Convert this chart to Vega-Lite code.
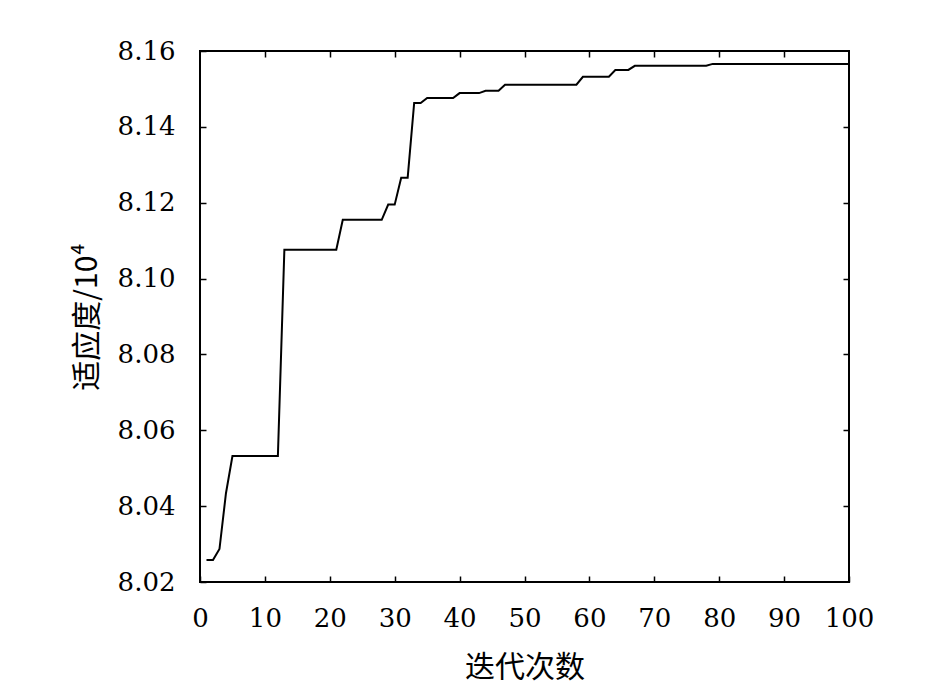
{
  "$schema": "https://vega.github.io/schema/vega-lite/v6.json",
  "autosize": {"type": "none"},
  "padding": {"left": 200, "top": 51, "right": 96, "bottom": 103},
  "width": 649,
  "height": 531,
  "background": "white",
  "config": {
    "view": {"stroke": "black", "strokeWidth": 2},
    "axis": {
      "grid": false,
      "domain": false,
      "tickColor": "black",
      "tickWidth": 1.5,
      "tickSize": -6,
      "labelFont": "DejaVu Serif",
      "labelFontSize": 26,
      "labelColor": "black",
      "titleFont": "Noto Sans CJK SC",
      "titleFontSize": 30,
      "titleFontWeight": "normal",
      "titleColor": "black"
    }
  },
  "data": {
    "values": [
      {"iter": 1, "fitness": 8.0258}, {"iter": 2, "fitness": 8.0258}, {"iter": 3, "fitness": 8.0287}, {"iter": 4, "fitness": 8.0434},
      {"iter": 5, "fitness": 8.0532}, {"iter": 6, "fitness": 8.0532}, {"iter": 7, "fitness": 8.0532}, {"iter": 8, "fitness": 8.0532},
      {"iter": 9, "fitness": 8.0532}, {"iter": 10, "fitness": 8.0532}, {"iter": 11, "fitness": 8.0532}, {"iter": 12, "fitness": 8.0532},
      {"iter": 13, "fitness": 8.1076}, {"iter": 14, "fitness": 8.1076}, {"iter": 15, "fitness": 8.1076}, {"iter": 16, "fitness": 8.1076},
      {"iter": 17, "fitness": 8.1076}, {"iter": 18, "fitness": 8.1076}, {"iter": 19, "fitness": 8.1076}, {"iter": 20, "fitness": 8.1076},
      {"iter": 21, "fitness": 8.1076}, {"iter": 22, "fitness": 8.1155}, {"iter": 23, "fitness": 8.1155}, {"iter": 24, "fitness": 8.1155},
      {"iter": 25, "fitness": 8.1155}, {"iter": 26, "fitness": 8.1155}, {"iter": 27, "fitness": 8.1155}, {"iter": 28, "fitness": 8.1155},
      {"iter": 29, "fitness": 8.1195}, {"iter": 30, "fitness": 8.1195}, {"iter": 31, "fitness": 8.1266}, {"iter": 32, "fitness": 8.1266},
      {"iter": 33, "fitness": 8.1463}, {"iter": 34, "fitness": 8.1463}, {"iter": 35, "fitness": 8.1476}, {"iter": 36, "fitness": 8.1476},
      {"iter": 37, "fitness": 8.1476}, {"iter": 38, "fitness": 8.1476}, {"iter": 39, "fitness": 8.1476}, {"iter": 40, "fitness": 8.1489},
      {"iter": 41, "fitness": 8.1489}, {"iter": 42, "fitness": 8.1489}, {"iter": 43, "fitness": 8.1489}, {"iter": 44, "fitness": 8.1495},
      {"iter": 45, "fitness": 8.1495}, {"iter": 46, "fitness": 8.1495}, {"iter": 47, "fitness": 8.1511}, {"iter": 48, "fitness": 8.1511},
      {"iter": 49, "fitness": 8.1511}, {"iter": 50, "fitness": 8.1511}, {"iter": 51, "fitness": 8.1511}, {"iter": 52, "fitness": 8.1511},
      {"iter": 53, "fitness": 8.1511}, {"iter": 54, "fitness": 8.1511}, {"iter": 55, "fitness": 8.1511}, {"iter": 56, "fitness": 8.1511},
      {"iter": 57, "fitness": 8.1511}, {"iter": 58, "fitness": 8.1511}, {"iter": 59, "fitness": 8.1532}, {"iter": 60, "fitness": 8.1532},
      {"iter": 61, "fitness": 8.1532}, {"iter": 62, "fitness": 8.1532}, {"iter": 63, "fitness": 8.1532}, {"iter": 64, "fitness": 8.155},
      {"iter": 65, "fitness": 8.155}, {"iter": 66, "fitness": 8.155}, {"iter": 67, "fitness": 8.1561}, {"iter": 68, "fitness": 8.1561},
      {"iter": 69, "fitness": 8.1561}, {"iter": 70, "fitness": 8.1561}, {"iter": 71, "fitness": 8.1561}, {"iter": 72, "fitness": 8.1561},
      {"iter": 73, "fitness": 8.1561}, {"iter": 74, "fitness": 8.1561}, {"iter": 75, "fitness": 8.1561}, {"iter": 76, "fitness": 8.1561},
      {"iter": 77, "fitness": 8.1561}, {"iter": 78, "fitness": 8.1561}, {"iter": 79, "fitness": 8.1566}, {"iter": 80, "fitness": 8.1566},
      {"iter": 81, "fitness": 8.1566}, {"iter": 82, "fitness": 8.1566}, {"iter": 83, "fitness": 8.1566}, {"iter": 84, "fitness": 8.1566},
      {"iter": 85, "fitness": 8.1566}, {"iter": 86, "fitness": 8.1566}, {"iter": 87, "fitness": 8.1566}, {"iter": 88, "fitness": 8.1566},
      {"iter": 89, "fitness": 8.1566}, {"iter": 90, "fitness": 8.1566}, {"iter": 91, "fitness": 8.1566}, {"iter": 92, "fitness": 8.1566},
      {"iter": 93, "fitness": 8.1566}, {"iter": 94, "fitness": 8.1566}, {"iter": 95, "fitness": 8.1566}, {"iter": 96, "fitness": 8.1566},
      {"iter": 97, "fitness": 8.1566}, {"iter": 98, "fitness": 8.1566}, {"iter": 99, "fitness": 8.1566}, {"iter": 100, "fitness": 8.1566}
    ]
  },
  "layer": [
    {
      "mark": {"type": "line", "color": "black", "strokeWidth": 2},
      "encoding": {
        "x": {
          "field": "iter", "type": "quantitative",
          "scale": {"domain": [0, 100], "nice": false, "zero": false},
          "axis": {"orient": "bottom", "title": "迭代次数", "values": [0,10,20,30,40,50,60,70,80,90,100], "labelPadding": 29, "titlePadding": 21, "labelFlush": false}
        },
        "y": {
          "field": "fitness", "type": "quantitative",
          "scale": {"domain": [8.02, 8.16], "nice": false, "zero": false},
          "axis": {"orient": "left", "title": "适应度/10⁴", "values": [8.02,8.04,8.06,8.08,8.10,8.12,8.14,8.16], "format": ".2f", "labelPadding": 31, "titlePadding": 15, "labelFlush": false}
        }
      }
    },
    {
      "mark": {"type": "line", "opacity": 0},
      "encoding": {
        "x": {
          "field": "iter", "type": "quantitative",
          "scale": {"domain": [0, 100], "nice": false, "zero": false},
          "axis": {"orient": "top", "title": null, "labels": false, "values": [10,20,30,40,50,60,70,80,90]}
        },
        "y": {
          "field": "fitness", "type": "quantitative",
          "scale": {"domain": [8.02, 8.16], "nice": false, "zero": false},
          "axis": {"orient": "right", "title": null, "labels": false, "values": [8.04,8.06,8.08,8.10,8.12,8.14]}
        }
      }
    }
  ],
  "resolve": {"axis": {"x": "independent", "y": "independent"}}
}
